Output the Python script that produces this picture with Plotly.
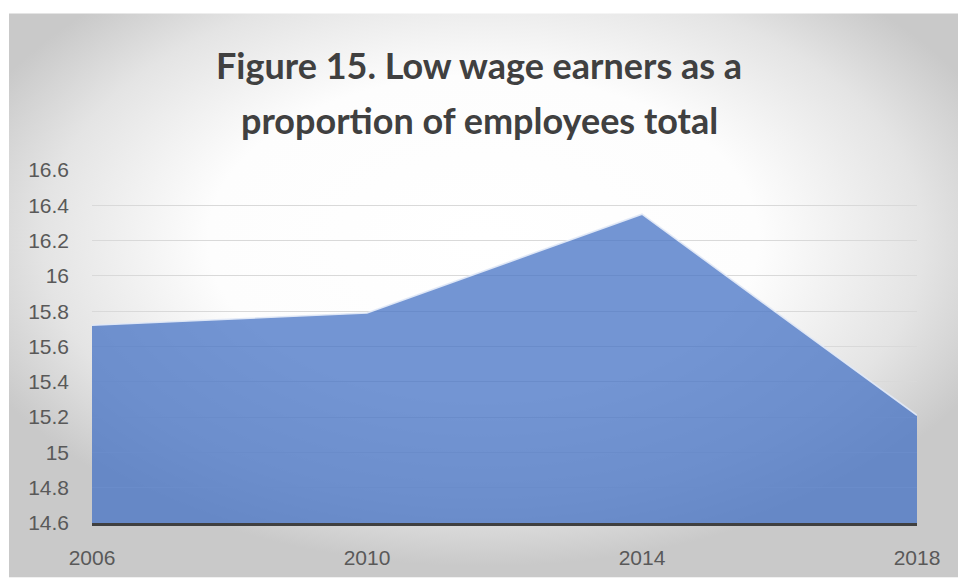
import base64
import plotly.graph_objects as go

# Share of low wage earners among all employees (%)
years = ["2006", "2010", "2014", "2018"]
share = [15.72, 15.79, 16.35, 15.21]
y_ticks = [14.6, 14.8, 15.0, 15.2, 15.4, 15.6, 15.8, 16.0, 16.2, 16.4, 16.6]
y_tick_text = ["14.6", "14.8", "15", "15.2", "15.4", "15.6", "15.8", "16", "16.2", "16.4", "16.6"]
title_lines = ["Figure 15. Low wage earners as a", "proportion of employees total"]

W, H = 958, 581
L, R, T, B = 92, 41, 170, 55
pw, ph = W - L - R, H - T - B

def px_to_paper_x(px):
    return (px - L) / pw

def px_to_paper_y(py):
    return (H - B - py) / ph

# radial grey-to-white backdrop of the chart card
svg = (
    '<svg xmlns="http://www.w3.org/2000/svg" width="949" height="569" preserveAspectRatio="none">'
    '<defs><radialGradient id="g" cx="50%" cy="40%" r="58%">'
    '<stop offset="0" stop-color="#ffffff"/>'
    '<stop offset="0.5" stop-color="#fdfdfd"/>'
    '<stop offset="0.8" stop-color="#e4e4e4"/>'
    '<stop offset="1" stop-color="#c9c9c9"/>'
    '</radialGradient></defs>'
    '<rect width="949" height="569" fill="url(#g)"/></svg>'
)
bg_src = "data:image/svg+xml;base64," + base64.b64encode(svg.encode()).decode()

fig = go.Figure()
fig.add_trace(go.Scatter(
    x=years, y=share,
    mode="lines",
    fill="tozeroy",
    fillcolor="rgba(68,114,196,0.75)",
    line=dict(color="rgba(225,233,247,0.95)", width=1.6),
    hoverinfo="x+y",
    showlegend=False,
))

fig.add_layout_image(dict(
    source=bg_src,
    xref="paper", yref="paper",
    x=px_to_paper_x(9), y=px_to_paper_y(12),
    sizex=(W - 9) / pw, sizey=(H - 12) / ph,
    xanchor="left", yanchor="top",
    sizing="stretch", layer="below",
))

for text, cy in zip(title_lines, [64, 120]):
    fig.add_annotation(
        text=f"<b>{text}</b>",
        xref="paper", yref="paper",
        x=px_to_paper_x(479), y=px_to_paper_y(cy),
        xanchor="center", yanchor="middle",
        showarrow=False,
        font=dict(family="Lato", size=36, color="#404040"),
    )

fig.update_layout(
    width=W, height=H,
    margin=dict(l=L, r=R, t=T, b=B, pad=0),
    paper_bgcolor="white",
    plot_bgcolor="rgba(0,0,0,0)",
    font=dict(family="Liberation Sans", size=21, color="#595959"),
    xaxis=dict(
        type="category",
        range=[0, 3],
        showgrid=False,
        showline=True, linecolor="#404040", linewidth=3,
        ticks="", ticklabelstandoff=14,
        zeroline=False,
        fixedrange=True,
    ),
    yaxis=dict(
        range=[14.6, 16.6],
        tickvals=y_ticks, ticktext=y_tick_text,
        showgrid=True, gridcolor="#d9d9d9", gridwidth=1,
        showline=False, zeroline=False,
        ticks="", ticklabelstandoff=22,
        fixedrange=True,
    ),
)

fig.write_html("out.html")
